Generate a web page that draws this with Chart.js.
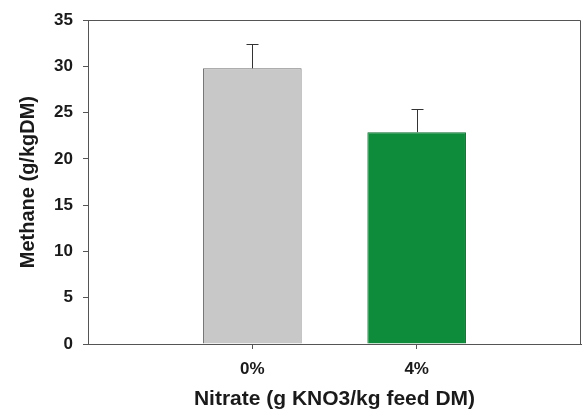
<!DOCTYPE html>
<html>
<head>
<meta charset="utf-8">
<script src="https://cdn.jsdelivr.net/npm/chart.js@4"></script>
<style>
  html, body { margin: 0; padding: 0; background: #ffffff; }
  canvas { display: block; }
</style>
</head>
<body>
<canvas id="c" width="585" height="413"></canvas>
<script>
// ---- data ----
const categories = ['0%', '4%'];
const methane = [29.8, 22.9];
const methaneSE = [2.6, 2.5];
const barColors = ['#c8c8c8', '#0f8b3c'];
const barBorders = ['#6e6e6e', '#0b6a2d'];
const yTicks = [0, 5, 10, 15, 20, 25, 30, 35];

// pad with empty categories on each side (axis spans one category beyond)
const labels = [''].concat(categories, ['']);
const values = [null].concat(methane, [null]);
const errors = [null].concat(methaneSE, [null]);
const bgs = ['transparent'].concat(barColors, ['transparent']);
const bds = ['transparent'].concat(barBorders, ['transparent']);

const FONT = "'Liberation Sans', Arial, sans-serif";
const AXIS = '#555555';

const frameAndErrors = {
  id: 'frameAndErrors',
  afterDatasetsDraw(chart) {
    const ctx = chart.ctx;
    const meta = chart.getDatasetMeta(0);
    const y = chart.scales.y;
    ctx.save();
    ctx.strokeStyle = '#333333';
    ctx.lineWidth = 1;
    meta.data.forEach((bar, i) => {
      if (values[i] == null || errors[i] == null) return;
      const x = Math.round(bar.x) + 0.5;
      const yTop = y.getPixelForValue(values[i]);
      const yErr = Math.round(y.getPixelForValue(values[i] + errors[i])) + 0.5;
      ctx.beginPath();
      ctx.moveTo(x, yTop);
      ctx.lineTo(x, yErr);
      ctx.moveTo(x - 6, yErr);
      ctx.lineTo(x + 6, yErr);
      ctx.stroke();
    });
    // frame top & right
    const a = chart.chartArea;
    ctx.strokeStyle = AXIS;
    ctx.beginPath();
    ctx.moveTo(a.left, Math.round(a.top) + 0.5);
    ctx.lineTo(Math.round(a.right) - 0.5, Math.round(a.top) + 0.5);
    ctx.lineTo(Math.round(a.right) - 0.5, a.bottom);
    ctx.stroke();
    ctx.restore();
  }
};

new Chart(document.getElementById('c'), {
  type: 'bar',
  data: {
    labels: labels,
    datasets: [{
      data: values,
      backgroundColor: bgs,
      borderColor: bds,
      borderWidth: 1,
      barPercentage: 0.6,
      categoryPercentage: 1.0
    }]
  },
  options: {
    responsive: false,
    animation: false,
    layout: { padding: { top: 19, right: 4, bottom: 0, left: 0 } },
    plugins: { legend: { display: false }, tooltip: { enabled: false } },
    scales: {
      x: {
        offset: false,
        afterFit: (s) => { s.height = 69; s.paddingLeft = 0; s.paddingRight = 0; },
        grid: {
          offset: false,
          drawOnChartArea: false,
          drawTicks: true,
          tickLength: 5,
          tickColor: (c) => (c.tick && c.tick.label) ? AXIS : 'rgba(0,0,0,0)'
        },
        border: { display: true, color: AXIS, width: 1 },
        ticks: {
          padding: 10,
          maxRotation: 0,
          autoSkip: false,
          color: '#1a1a1a',
          font: { family: FONT, size: 17, weight: 'bold' }
        },
        title: {
          display: true,
          text: 'Nitrate (g KNO3/kg feed DM)',
          color: '#1a1a1a',
          padding: { top: 0, bottom: 1 },
          font: { family: FONT, size: 21, weight: 'bold' }
        }
      },
      y: {
        min: 0,
        max: 35,
        afterFit: (s) => { s.width = 88; },
        afterBuildTicks: (s) => { s.ticks = yTicks.map(v => ({ value: v })); },
        grid: {
          drawOnChartArea: false,
          drawTicks: true,
          tickLength: 5,
          tickColor: AXIS
        },
        border: { display: true, color: AXIS, width: 1 },
        ticks: {
          padding: 10,
          color: '#1a1a1a',
          font: { family: FONT, size: 17, weight: 'bold' }
        },
        title: {
          display: true,
          text: 'Methane (g/kgDM)',
          color: '#1a1a1a',
          padding: { top: 16, bottom: 0 },
          font: { family: FONT, size: 20, weight: 'bold' }
        }
      }
    }
  },
  plugins: [frameAndErrors]
});
</script>
</body>
</html>
